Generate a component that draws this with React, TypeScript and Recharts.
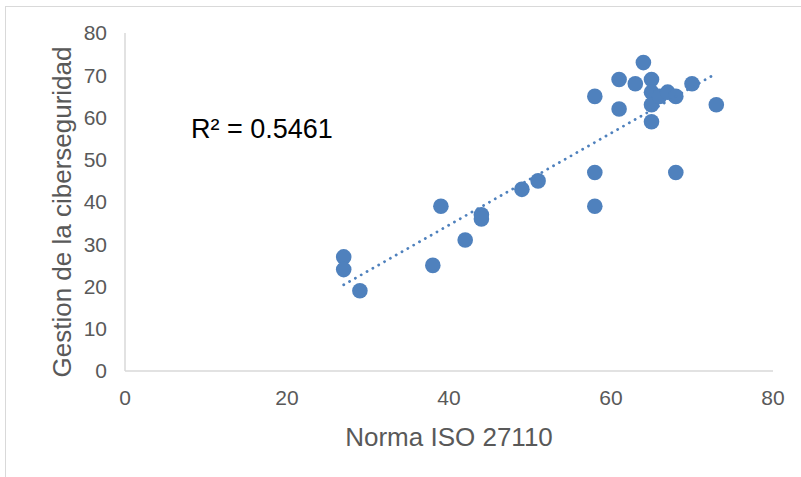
import React from 'react';
import { ScatterChart, Scatter, XAxis, YAxis, Label } from 'recharts';

// ISO 27110 score vs. cybersecurity management score
const isoScores = [27, 27, 29, 38, 39, 42, 44, 44, 49, 51, 58, 58, 58, 61, 61, 63, 64, 65, 65, 65, 65, 66, 67, 68, 68, 70, 73];
const gestionScores = [27, 24, 19, 25, 39, 31, 37, 36, 43, 45, 47, 39, 65, 69, 62, 68, 73, 69, 66, 63, 59, 65, 66, 65, 47, 68, 63];

// linear trendline endpoints
const trendX = [27, 72.8];
const trendY = [20.4, 70.2];

const xTicks = [0, 20, 40, 60, 80];
const yTicks = [0, 10, 20, 30, 40, 50, 60, 70, 80];

const points = isoScores.map((x, i) => ({ x, y: gestionScores[i] }));
const trend = trendX.map((x, i) => ({ x, y: trendY[i] }));

const FONT = '"Liberation Sans", Arial, sans-serif';
const TEXT = '#595959';
const BLUE = '#4F81BD';

export default function App() {
  return (
    <div style={{ position: 'absolute', left: 0, top: 0, width: 801, height: 477, background: '#fff', fontFamily: FONT }}>
      <div style={{ position: 'absolute', left: 5, top: 6, right: 0, bottom: 0, borderLeft: '1px solid #d9d9d9', borderTop: '1px solid #d9d9d9' }} />
      <ScatterChart width={801} height={477} margin={{ top: 33, right: 28, bottom: 46, left: 65 }}>
        <XAxis
          type="number"
          dataKey="x"
          domain={[0, 80]}
          ticks={xTicks}
          height={60}
          tickLine={false}
          tickSize={0}
          tickMargin={19}
          axisLine={{ stroke: '#d9d9d9', strokeWidth: 1.5 }}
          tick={{ fill: TEXT, fontSize: 21, fontFamily: FONT }}
        >
          <Label
            content={({ viewBox }: any) => (
              <text x={viewBox.x + viewBox.width / 2} y={446} textAnchor="middle" fill={TEXT} fontSize={26} fontFamily={FONT}>
                Norma ISO 27110
              </text>
            )}
          />
        </XAxis>
        <YAxis
          type="number"
          dataKey="y"
          domain={[0, 80]}
          ticks={yTicks}
          width={60}
          tickLine={false}
          tickSize={0}
          tickMargin={18}
          axisLine={{ stroke: '#d9d9d9', strokeWidth: 1.5 }}
          tick={{ fill: TEXT, fontSize: 21, fontFamily: FONT }}
        >
          <Label
            content={() => (
              <text x={0} y={0} transform="translate(71 212) rotate(-90)" textAnchor="middle" fill={TEXT} fontSize={26} fontFamily={FONT}>
                Gestion de la ciberseguridad
              </text>
            )}
          />
        </YAxis>
        <Scatter data={points} fill={BLUE} isAnimationActive={false} shape={(p: any) => <circle cx={p.cx} cy={p.cy} r={7.8} fill={BLUE} />} />
        <Scatter
          data={trend}
          isAnimationActive={false}
          line={{ stroke: BLUE, strokeWidth: 2.8, strokeDasharray: '0.1 6.6', strokeLinecap: 'round' }}
          lineType="joint"
          shape={() => <g />}
        />
      </ScatterChart>
      <div style={{ position: 'absolute', left: 191, top: 114, fontSize: 27, lineHeight: '31px', color: '#000', fontFamily: FONT, whiteSpace: 'nowrap' }}>
        R² = 0.5461
      </div>
    </div>
  );
}
